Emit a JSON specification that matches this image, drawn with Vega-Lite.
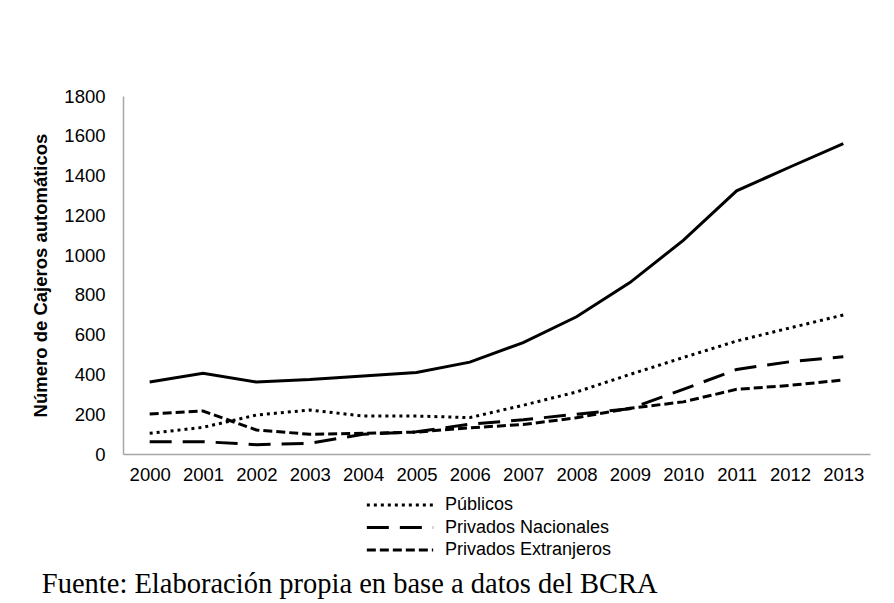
{
  "$schema": "https://vega.github.io/schema/vega-lite/v6.json",
  "autosize": "none",
  "width": 747,
  "height": 358,
  "padding": {"left": 123, "top": 96, "right": 24, "bottom": 149},
  "background": "white",
  "config": {"view": {"stroke": null}, "font": "Liberation Sans"},
  "title": {
    "text": "Fuente: Elaboración propia en base a datos del BCRA",
    "orient": "bottom",
    "anchor": "start",
    "frame": "bounds",
    "font": "Liberation Serif",
    "fontSize": 28.5,
    "fontWeight": "normal",
    "color": "black",
    "offset": 9,
    "dx": 10
  },
  "data": {
    "values": [
      {"year": "2000", "serie": "Total", "value": 362},
      {"year": "2001", "serie": "Total", "value": 406},
      {"year": "2002", "serie": "Total", "value": 362},
      {"year": "2003", "serie": "Total", "value": 374},
      {"year": "2004", "serie": "Total", "value": 392},
      {"year": "2005", "serie": "Total", "value": 410},
      {"year": "2006", "serie": "Total", "value": 462},
      {"year": "2007", "serie": "Total", "value": 560},
      {"year": "2008", "serie": "Total", "value": 690},
      {"year": "2009", "serie": "Total", "value": 862},
      {"year": "2010", "serie": "Total", "value": 1074},
      {"year": "2011", "serie": "Total", "value": 1323},
      {"year": "2012", "serie": "Total", "value": 1443},
      {"year": "2013", "serie": "Total", "value": 1561},
      {"year": "2000", "serie": "Públicos", "value": 104},
      {"year": "2001", "serie": "Públicos", "value": 134},
      {"year": "2002", "serie": "Públicos", "value": 196},
      {"year": "2003", "serie": "Públicos", "value": 221},
      {"year": "2004", "serie": "Públicos", "value": 191},
      {"year": "2005", "serie": "Públicos", "value": 191},
      {"year": "2006", "serie": "Públicos", "value": 183},
      {"year": "2007", "serie": "Públicos", "value": 245},
      {"year": "2008", "serie": "Públicos", "value": 312},
      {"year": "2009", "serie": "Públicos", "value": 400},
      {"year": "2010", "serie": "Públicos", "value": 485},
      {"year": "2011", "serie": "Públicos", "value": 568},
      {"year": "2012", "serie": "Públicos", "value": 634},
      {"year": "2013", "serie": "Públicos", "value": 699},
      {"year": "2000", "serie": "Privados Nacionales", "value": 62},
      {"year": "2001", "serie": "Privados Nacionales", "value": 62},
      {"year": "2002", "serie": "Privados Nacionales", "value": 47},
      {"year": "2003", "serie": "Privados Nacionales", "value": 54},
      {"year": "2004", "serie": "Privados Nacionales", "value": 99},
      {"year": "2005", "serie": "Privados Nacionales", "value": 112},
      {"year": "2006", "serie": "Privados Nacionales", "value": 150},
      {"year": "2007", "serie": "Privados Nacionales", "value": 172},
      {"year": "2008", "serie": "Privados Nacionales", "value": 200},
      {"year": "2009", "serie": "Privados Nacionales", "value": 228},
      {"year": "2010", "serie": "Privados Nacionales", "value": 325},
      {"year": "2011", "serie": "Privados Nacionales", "value": 425},
      {"year": "2012", "serie": "Privados Nacionales", "value": 464},
      {"year": "2013", "serie": "Privados Nacionales", "value": 489},
      {"year": "2000", "serie": "Privados Extranjeros", "value": 201},
      {"year": "2001", "serie": "Privados Extranjeros", "value": 216},
      {"year": "2002", "serie": "Privados Extranjeros", "value": 121},
      {"year": "2003", "serie": "Privados Extranjeros", "value": 99},
      {"year": "2004", "serie": "Privados Extranjeros", "value": 104},
      {"year": "2005", "serie": "Privados Extranjeros", "value": 110},
      {"year": "2006", "serie": "Privados Extranjeros", "value": 132},
      {"year": "2007", "serie": "Privados Extranjeros", "value": 148},
      {"year": "2008", "serie": "Privados Extranjeros", "value": 182},
      {"year": "2009", "serie": "Privados Extranjeros", "value": 230},
      {"year": "2010", "serie": "Privados Extranjeros", "value": 262},
      {"year": "2011", "serie": "Privados Extranjeros", "value": 325},
      {"year": "2012", "serie": "Privados Extranjeros", "value": 345},
      {"year": "2013", "serie": "Privados Extranjeros", "value": 372}
    ]
  },
  "encoding": {
    "x": {
      "field": "year",
      "type": "ordinal",
      "scale": {"type": "point", "padding": 0.5},
      "axis": {
        "title": null,
        "labelAngle": 0,
        "labelFont": "Liberation Sans",
        "labelFontSize": 18.5,
        "labelColor": "black",
        "labelPadding": 11,
        "ticks": false,
        "domainColor": "#a6a6a6",
        "domainWidth": 1.5,
        "grid": false
      }
    },
    "y": {
      "field": "value",
      "type": "quantitative",
      "scale": {"domain": [0, 1800], "nice": false},
      "axis": {
        "title": "Número de Cajeros automáticos",
        "titleFont": "Liberation Sans",
        "titleFontSize": 18.5,
        "titleFontWeight": "bold",
        "titleColor": "black",
        "titlePadding": 13,
        "values": [0, 200, 400, 600, 800, 1000, 1200, 1400, 1600, 1800],
        "format": "d",
        "labelFont": "Liberation Sans",
        "labelFontSize": 18.5,
        "labelColor": "black",
        "labelPadding": 18,
        "ticks": false,
        "grid": false,
        "domainColor": "#a6a6a6",
        "domainWidth": 1.5
      }
    }
  },
  "layer": [
    {
      "transform": [{"filter": "datum.serie === 'Total'"}],
      "mark": {"type": "line", "color": "black", "strokeWidth": 3}
    },
    {
      "transform": [{"filter": "datum.serie !== 'Total'"}],
      "mark": {"type": "line", "color": "black", "strokeWidth": 3},
      "encoding": {
        "strokeDash": {
          "field": "serie",
          "type": "nominal",
          "scale": {
            "domain": ["Públicos", "Privados Nacionales", "Privados Extranjeros"],
            "range": [[3, 4], [22, 11], [9, 4]]
          },
          "legend": {
            "title": null,
            "orient": "none",
            "legendX": 242,
            "legendY": 398,
            "symbolType": "stroke",
            "symbolSize": 4400,
            "symbolStrokeWidth": 3,
            "symbolStrokeColor": "black",
            "clipHeight": 22,
            "labelFont": "Liberation Sans",
            "labelFontSize": 18,
            "labelLimit": 400,
            "labelColor": "black",
            "labelOffset": 10,
            "rowPadding": 0.5
          }
        }
      }
    }
  ]
}
